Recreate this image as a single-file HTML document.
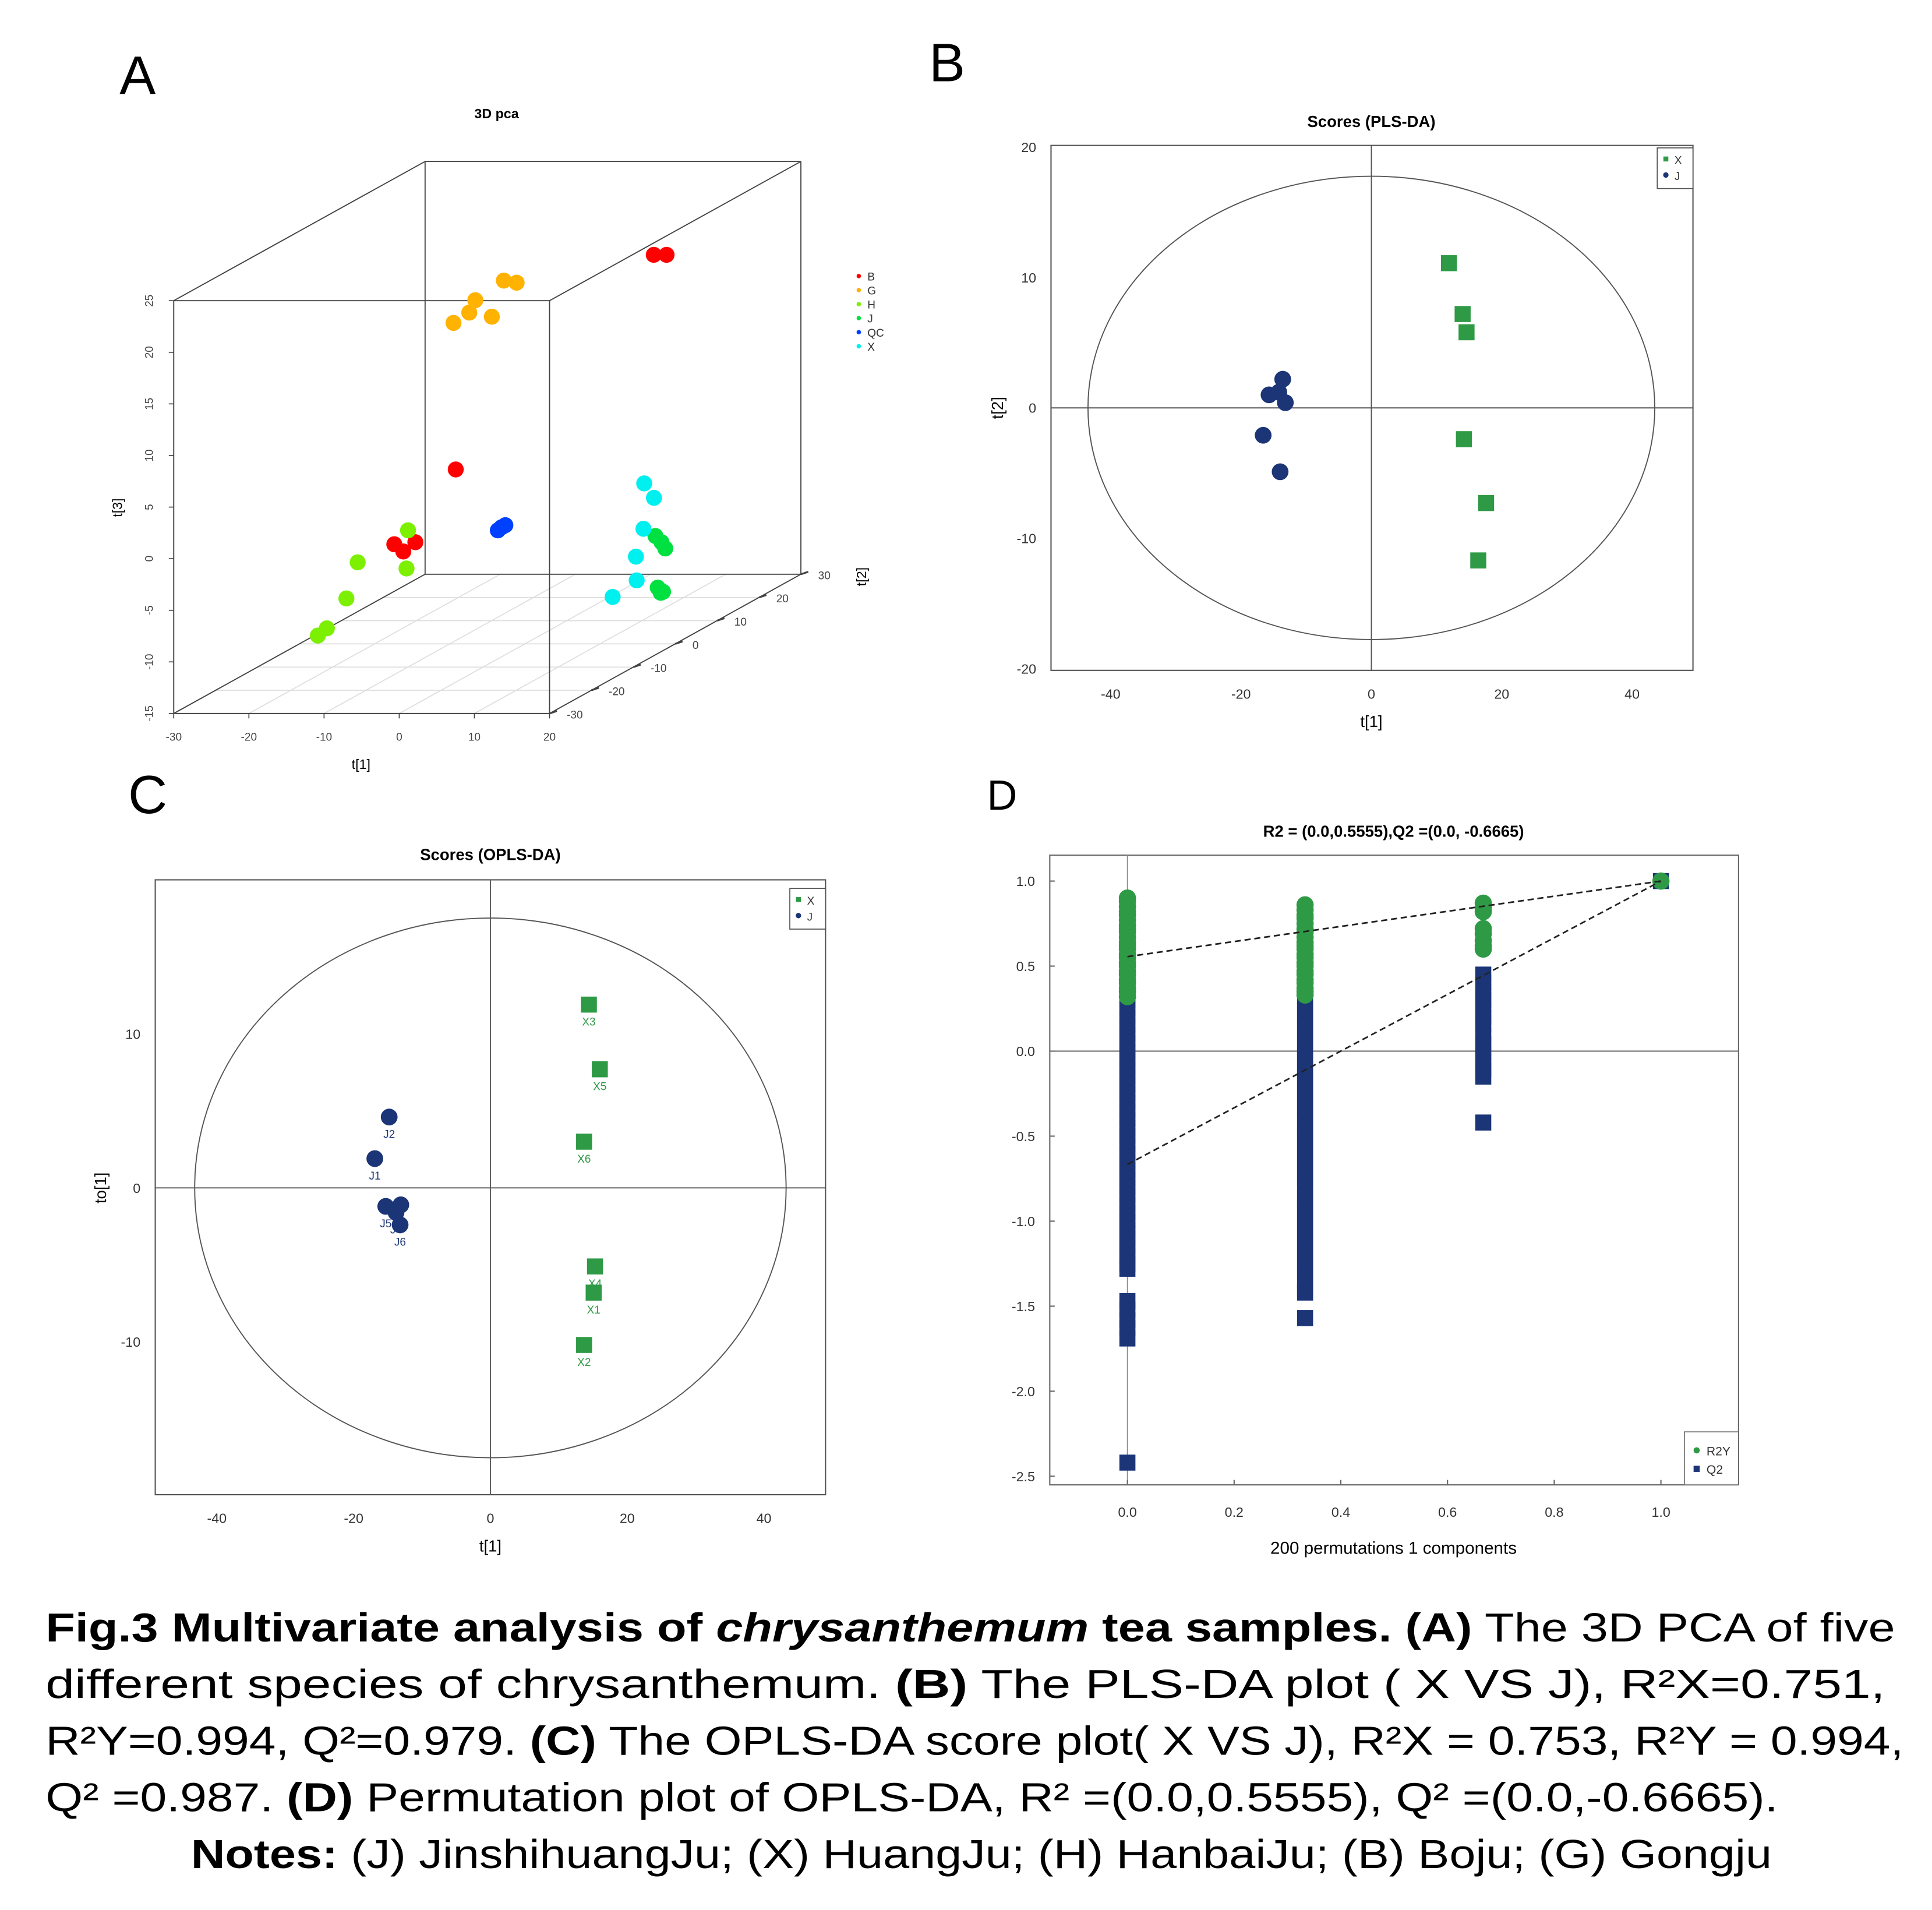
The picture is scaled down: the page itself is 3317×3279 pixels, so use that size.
<!DOCTYPE html>
<html><head><meta charset="utf-8"><style>
html,body{margin:0;padding:0;background:#fff;}
svg{display:block;}
text{font-family:"Liberation Sans",Arial,sans-serif;}
</style></head><body>
<svg id="fig" xmlns="http://www.w3.org/2000/svg" width="3317" height="3279" viewBox="0 0 1568 1550">
<rect width="1568" height="1550" fill="#fff"/>
<g id="pa"></g>
<g id="pb"></g>
<g id="pc"></g>
<g id="pd"></g>
<g font-size="44">
<text x="97" y="76">A</text>
<text x="754" y="66">B</text>
<text x="104" y="660">C</text>
<text x="801" y="657" font-size="34">D</text>
</g>
<g font-size="33" fill="#000">
<text x="37" y="1332" textLength="1501" lengthAdjust="spacingAndGlyphs"><tspan font-weight="bold">Fig.3 Multivariate analysis of  </tspan><tspan font-weight="bold" font-style="italic">chrysanthemum</tspan><tspan font-weight="bold"> tea samples. (A)</tspan>  The 3D PCA  of five</text>
<text x="37" y="1378" textLength="1493" lengthAdjust="spacingAndGlyphs">different species of chrysanthemum. <tspan font-weight="bold">(B)</tspan>  The PLS-DA plot ( X VS J), R²X=0.751,</text>
<text x="37" y="1424" textLength="1508" lengthAdjust="spacingAndGlyphs">R²Y=0.994,  Q²=0.979. <tspan font-weight="bold">(C)</tspan> The OPLS-DA score plot( X VS J), R²X = 0.753, R²Y = 0.994,</text>
<text x="37" y="1470" textLength="1406" lengthAdjust="spacingAndGlyphs">Q² =0.987.  <tspan font-weight="bold">(D)</tspan> Permutation plot of OPLS-DA, R²  =(0.0,0.5555), Q² =(0.0,-0.6665).</text>
<text x="155" y="1516" textLength="1283" lengthAdjust="spacingAndGlyphs"><tspan font-weight="bold">Notes:</tspan> (J) JinshihuangJu; (X) HuangJu; (H) HanbaiJu; (B) Boju; (G) Gongju</text>
</g>
</svg>
<script>
const NS="http://www.w3.org/2000/svg";
// ===== Panel A data =====
const pcaGroups=["B","G","H","J","QC","X"];
const pcaColors=["#ff0000","#ffb300","#7cf000","#00e040","#0040ff","#00f0f0"];
const pcaT1B=[6.0,7.7,-9.2,-11.8,-10.6,-9.0];
const pcaT2B=[20,20,0,-10,-10,-10];
const pcaT3B=[18.2,18.2,1.9,-3.1,-3.8,-2.9];
const pcaT1G=[-9.5,-7.4,-6.6,-4.4,-2.8,-1.1];
const pcaT2G=[0,0,0,0,0,0];
const pcaT3G=[16.1,17.1,18.3,16.7,20.2,20.0];
const pcaT1H=[-4.4,-11.1,-12.6,-4.6,-15.2,-16.4];
const pcaT2H=[-20,-20,-20,-20,-20,-20];
const pcaT3H=[0.5,-2.6,-6.1,-3.2,-9.0,-9.7];
const pcaT1J=[11.8,12.6,13.1,12.1,12.8,12.5];
const pcaT2J=[10,10,10,10,10,10];
const pcaT3J=[-6.8,-7.4,-8.0,-11.8,-12.2,-12.3];
const pcaT1QC=[-3.6,-2.6,-3.1];
const pcaT2QC=[0,0,0];
const pcaT3QC=[-4.0,-3.5,-3.7];
const pcaT1X=[10.3,11.6,10.2,9.2,9.3,6.1];
const pcaT2X=[10,10,10,10,10,10];
const pcaT3X=[-1.7,-3.1,-6.1,-8.8,-11.1,-12.7];
const pcaT1Ticks=[-30,-20,-10,0,10,20];
const pcaT2Ticks=[-30,-20,-10,0,10,20,30];
const pcaT3Ticks=[-15,-10,-5,0,5,10,15,20,25];
// ===== Panel B data =====
const plsXt1=[11.9,14.0,14.6,14.2,17.6,16.4];
const plsXt2=[11.1,7.2,5.8,-2.4,-7.3,-11.7];
const plsJt1=[-13.6,-15.7,-14.2,-13.2,-16.6,-14.0];
const plsJt2=[2.2,1.0,1.2,0.4,-2.1,-4.9];
const plsXTicks=[-40,-20,0,20,40];
const plsYTicks=[-20,-10,0,10,20];
// ===== Panel C data =====
const oplsXnames=["X3","X5","X6","X4","X1","X2"];
const oplsXt1=[14.4,16.0,13.7,15.3,15.1,13.7];
const oplsXto=[11.9,7.7,3.0,-5.1,-6.8,-10.2];
const oplsJnames=["J2","J1","J5","J3","J4","J6"];
const oplsJt1=[-14.8,-16.9,-15.3,-13.1,-13.8,-13.2];
const oplsJto=[4.6,1.9,-1.2,-1.1,-1.6,-2.4];
const oplsXTicks=[-40,-20,0,20,40];
const oplsYTicks=[-10,0,10];
// ===== Panel D data =====
const permX=[0,0.333,0.667,1.0];
const permR2_0=[0.9,0.88,0.85,0.82,0.8,0.77,0.74,0.72,0.7,0.67,0.64,0.62,0.6,0.57,0.55,0.52,0.5,0.47,0.45,0.42,0.4,0.37,0.35,0.32];
const permR2_1=[0.86,0.83,0.8,0.78,0.75,0.72,0.7,0.67,0.64,0.62,0.6,0.57,0.55,0.52,0.5,0.47,0.45,0.42,0.4,0.37,0.35,0.33];
const permR2_2=[0.87,0.84,0.82,0.72,0.69,0.65,0.62,0.6];
const permR2_3=[1.0];
const permQ2_0=[0.3,0.25,0.2,0.15,0.1,0.05,0.0,-0.05,-0.1,-0.15,-0.2,-0.25,-0.3,-0.35,-0.4,-0.45,-0.5,-0.55,-0.6,-0.65,-0.7,-0.75,-0.8,-0.85,-0.9,-0.95,-1.0,-1.05,-1.1,-1.15,-1.2,-1.25,-1.28,-1.47,-1.52,-1.58,-1.63,-1.69,-2.42];
const permQ2_1=[0.3,0.25,0.2,0.15,0.1,0.05,0.0,-0.05,-0.1,-0.15,-0.2,-0.25,-0.3,-0.35,-0.4,-0.45,-0.5,-0.55,-0.6,-0.65,-0.7,-0.75,-0.8,-0.86,-0.9,-0.95,-1.0,-1.05,-1.1,-1.15,-1.2,-1.25,-1.3,-1.35,-1.4,-1.42,-1.57];
const permQ2_2=[0.45,0.4,0.35,0.3,0.25,0.2,0.16,0.09,0.04,-0.01,-0.06,-0.11,-0.15,-0.42];
const permQ2_3=[1.0];
const permInterceptR2=0.5555, permInterceptQ2=-0.6665;
const permXTicks=[0,0.2,0.4,0.6,0.8,1.0];
const permXLabels=["0.0","0.2","0.4","0.6","0.8","1.0"];
const permYTicks=[1.0,0.5,0,-0.5,-1.0,-1.5,-2.0,-2.5];
const permYLabels=["1.0","0.5","0.0","-0.5","-1.0","-1.5","-2.0","-2.5"];

function mk(parent,tag,attrs,txt){const e=document.createElementNS(NS,tag);for(const k in attrs)e.setAttribute(k,attrs[k]);if(txt!==undefined)e.textContent=txt;parent.appendChild(e);return e;}
const GREEN="#2e9a45",NAVY="#1b3577";

// ===== Panel A =====
(function(){
const g=document.getElementById('pa');
const proj=(t1,t2,t3)=>[141+(t1+30)*6.1+(t2+30)/60*204, 579-(t3+15)*8.375-(t2+30)/60*113];
let e=mk(g,'text',{x:403,y:96,'font-size':11,'font-weight':'bold','text-anchor':'middle'},'3D pca');

pcaT2Ticks.forEach(v=>{const a=proj(-30,v,-15),b=proj(20,v,-15);const l=mk(g,'line',{x1:a[0],y1:a[1],x2:b[0],y2:b[1],stroke:'#ddd','stroke-width':0.8});});
pcaT1Ticks.forEach(v=>{const a=proj(v,-30,-15),b=proj(v,30,-15);const l=mk(g,'line',{x1:a[0],y1:a[1],x2:b[0],y2:b[1],stroke:'#ddd','stroke-width':0.8});});
const C=[[-30,-30,-15],[20,-30,-15],[20,30,-15],[-30,30,-15],[-30,-30,25],[20,-30,25],[20,30,25],[-30,30,25]];
const E=[[0,1],[1,2],[2,3],[3,0],[4,5],[5,6],[6,7],[7,4],[0,4],[1,5],[2,6],[3,7]];
E.forEach(([i,j])=>{const a=proj(...C[i]),b=proj(...C[j]);const l=mk(g,'line',{x1:a[0],y1:a[1],x2:b[0],y2:b[1],stroke:'#444','stroke-width':0.9});});
pcaT3Ticks.forEach(v=>{const p=proj(-30,-30,v);mk(g,'line',{x1:p[0]-4,y1:p[1],x2:p[0],y2:p[1],stroke:'#444','stroke-width':0.8});const t=mk(g,'text',{x:p[0]-17,y:p[1],'font-size':9,fill:'#444','text-anchor':'middle',transform:`rotate(-90 ${p[0]-17} ${p[1]})`},String(v));});
pcaT1Ticks.forEach(v=>{const p=proj(v,-30,-15);mk(g,'line',{x1:p[0],y1:p[1],x2:p[0],y2:p[1]+4,stroke:'#444','stroke-width':0.8});const t=mk(g,'text',{x:p[0],y:p[1]+22,'font-size':9,fill:'#444','text-anchor':'middle'},String(v));});
pcaT2Ticks.forEach(v=>{const p=proj(20,v,-15);mk(g,'line',{x1:p[0],y1:p[1],x2:p[0]+6,y2:p[1]-2,stroke:'#444','stroke-width':1.5});const t=mk(g,'text',{x:p[0]+14,y:p[1]+4,'font-size':9,fill:'#444'},String(v));});
e=mk(g,'text',{x:99,y:412,'font-size':11,'text-anchor':'middle',transform:'rotate(-90 99 412)'},'t[3]');
e=mk(g,'text',{x:293,y:624,'font-size':11,'text-anchor':'middle'},'t[1]');
e=mk(g,'text',{x:703,y:468,'font-size':11,'text-anchor':'middle',transform:'rotate(-90 703 468)'},'t[2]');
const groups=[[pcaT1B,pcaT2B,pcaT3B],[pcaT1G,pcaT2G,pcaT3G],[pcaT1H,pcaT2H,pcaT3H],[pcaT1J,pcaT2J,pcaT3J],[pcaT1QC,pcaT2QC,pcaT3QC],[pcaT1X,pcaT2X,pcaT3X]];
groups.forEach((d,gi)=>{d[0].forEach((v,i)=>{const p=proj(v,d[1][i],d[2][i]);const c=mk(g,'circle',{cx:p[0],cy:p[1],r:6.5,fill:pcaColors[gi]});});});
pcaGroups.forEach((n,i)=>{const y=224+i*11.4;const c=mk(g,'circle',{cx:697,cy:y,r:1.8,fill:pcaColors[i]});const t=mk(g,'text',{x:704,y:y+3.5,'font-size':9,fill:'#333'},n);});
})();

function scatter(g,o){
const sx=v=>o.x0+v*o.kx, sy=v=>o.y0-v*o.ky;
let e=mk(g,'text',{x:o.tx,y:o.ty,'font-size':13,'font-weight':'bold','text-anchor':'middle'},o.title);
e=mk(g,'rect',{x:o.L,y:o.T,width:o.R-o.L,height:o.B-o.T,fill:'none',stroke:'#555','stroke-width':1});
e=mk(g,'ellipse',{cx:sx(0),cy:sy(0),rx:o.rx,ry:o.ry,fill:'none',stroke:'#555','stroke-width':0.9});
e=mk(g,'line',{x1:o.L,y1:sy(0),x2:o.R,y2:sy(0),stroke:'#555','stroke-width':0.9});
e=mk(g,'line',{x1:sx(0),y1:o.T,x2:sx(0),y2:o.B,stroke:'#555','stroke-width':0.9});
o.xt.forEach(v=>{const t=mk(g,'text',{x:sx(v),y:o.B+23,'font-size':11,fill:'#333','text-anchor':'middle'},String(v));});
o.yt.forEach(v=>{const t=mk(g,'text',{x:o.L-12,y:sy(v)+4,'font-size':11,fill:'#333','text-anchor':'end'},String(v));});
e=mk(g,'text',{x:sx(0),y:o.B+46,'font-size':13,'text-anchor':'middle'},'t[1]');
e=mk(g,'text',{x:o.ylx,y:sy(0),'font-size':13,'text-anchor':'middle',transform:`rotate(-90 ${o.ylx} ${sy(0)})`},o.ylab);
o.Xx.forEach((v,i)=>{const x=sx(v),y=sy(o.Xy[i]);const r=mk(g,'rect',{x:x-6.5,y:y-6.5,width:13,height:13,fill:GREEN});
 if(o.Xn){const t=mk(g,'text',{x:x,y:y+17,'font-size':9,fill:GREEN,'text-anchor':'middle'},o.Xn[i]);}});
o.Jx.forEach((v,i)=>{const x=sx(v),y=sy(o.Jy[i]);const c=mk(g,'circle',{cx:x,cy:y,r:6.8,fill:NAVY});
 if(o.Jn){const t=mk(g,'text',{x:x,y:y+17,'font-size':9,fill:NAVY,'text-anchor':'middle'},o.Jn[i]);}});
const lx=o.R-29,ly=o.T+(o.legOff||2);
e=mk(g,'rect',{x:lx,y:ly,width:29,height:33,fill:'#fff',stroke:'#555','stroke-width':0.8});
e=mk(g,'rect',{x:lx+5,y:ly+7,width:4,height:4,fill:GREEN});
e=mk(g,'text',{x:lx+14,y:ly+13,'font-size':9,fill:'#333'},'X');
e=mk(g,'circle',{cx:lx+7,cy:ly+22,r:2.2,fill:NAVY});
e=mk(g,'text',{x:lx+14,y:ly+26,'font-size':9,fill:'#333'},'J');
}
scatter(document.getElementById('pb'),{title:'Scores (PLS-DA)',tx:1113,ty:103,L:853,R:1374,T:118,B:544,x0:1113,kx:5.29,y0:331,ky:10.58,rx:230,ry:188,xt:plsXTicks,yt:plsYTicks,ylab:'t[2]',ylx:814,Xx:plsXt1,Xy:plsXt2,Jx:plsJt1,Jy:plsJt2});
scatter(document.getElementById('pc'),{title:'Scores (OPLS-DA)',tx:398,ty:698,L:126,R:670,T:714,B:1213,x0:398,kx:5.55,y0:964,ky:12.5,rx:240,ry:219,xt:oplsXTicks,yt:oplsYTicks,ylab:'to[1]',ylx:86,Xx:oplsXt1,Xy:oplsXto,Xn:oplsXnames,Jx:oplsJt1,Jy:oplsJto,Jn:oplsJnames,legOff:7});

(function(){
const g=document.getElementById('pd');
const L=852,R=1411,T=694,B=1205;
const sx=v=>915+v*433, sy=v=>853-v*138;
let e=mk(g,'text',{x:1131,y:679,'font-size':13,'font-weight':'bold','text-anchor':'middle'},'R2 = (0.0,0.5555),Q2 =(0.0, -0.6665)');
e=mk(g,'rect',{x:L,y:T,width:R-L,height:B-T,fill:'none',stroke:'#666','stroke-width':1});
e=mk(g,'line',{x1:L,y1:sy(0),x2:R,y2:sy(0),stroke:'#666','stroke-width':1});
e=mk(g,'line',{x1:sx(0),y1:T,x2:sx(0),y2:B,stroke:'#888','stroke-width':0.8});
permXTicks.forEach((v,i)=>{mk(g,'line',{x1:sx(v),y1:B,x2:sx(v),y2:B-4,stroke:'#666'});const t=mk(g,'text',{x:sx(v),y:B+26,'font-size':11,fill:'#333','text-anchor':'middle'},permXLabels[i]);});
permYTicks.forEach((v,i)=>{mk(g,'line',{x1:L,y1:sy(v),x2:L+4,y2:sy(v),stroke:'#666'});const t=mk(g,'text',{x:L-12,y:sy(v)+4,'font-size':11,fill:'#333','text-anchor':'end'},permYLabels[i]);});
e=mk(g,'text',{x:1131,y:1261,'font-size':14,'text-anchor':'middle'},'200 permutations 1 components');
const Q=[permQ2_0,permQ2_1,permQ2_2,permQ2_3], Rr=[permR2_0,permR2_1,permR2_2,permR2_3];
Q.forEach((arr,ci)=>arr.forEach(v=>{const r=mk(g,'rect',{x:sx(permX[ci])-6.5,y:sy(v)-6.5,width:13,height:13,fill:NAVY});}));
Rr.forEach((arr,ci)=>arr.forEach(v=>{const c=mk(g,'circle',{cx:sx(permX[ci]),cy:sy(v),r:7,fill:GREEN});}));
e=mk(g,'line',{x1:sx(0),y1:sy(permInterceptR2),x2:sx(1),y2:sy(1),stroke:'#222','stroke-width':1.3,'stroke-dasharray':'5,3'});
e=mk(g,'line',{x1:sx(0),y1:sy(permInterceptQ2),x2:sx(1),y2:sy(1),stroke:'#222','stroke-width':1.3,'stroke-dasharray':'5,3'});
e=mk(g,'rect',{x:1367,y:1162,width:44,height:43,fill:'#fff',stroke:'#666','stroke-width':0.8});
e=mk(g,'circle',{cx:1377,cy:1177,r:2.5,fill:GREEN});
e=mk(g,'text',{x:1385,y:1181,'font-size':10,fill:'#333'},'R2Y');
e=mk(g,'rect',{x:1374.5,y:1189.5,width:5,height:5,fill:NAVY});
e=mk(g,'text',{x:1385,y:1196,'font-size':10,fill:'#333'},'Q2');
})();
</script>
</body></html>
